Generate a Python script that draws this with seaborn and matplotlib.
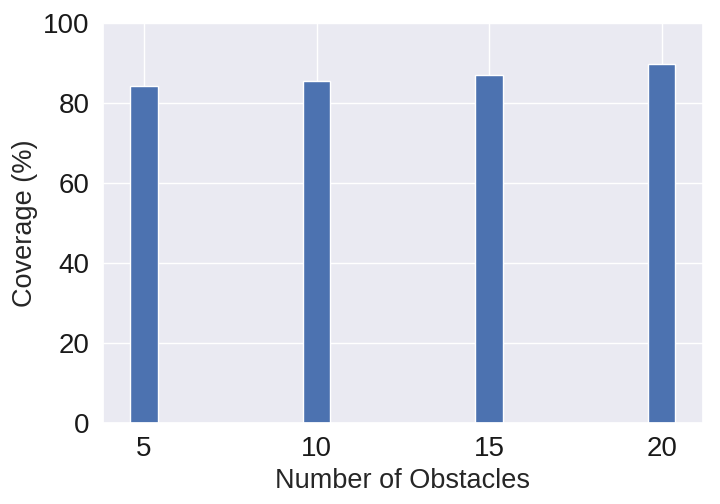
import matplotlib
matplotlib.use("Agg")
import matplotlib.pyplot as plt
import seaborn as sns

# Data
obstacles = [5, 10, 15, 20]
coverage = [84.2, 85.6, 87.1, 89.7]

sns.set_theme(style="darkgrid")
plt.rcParams['font.family'] = ['Liberation Sans', 'DejaVu Sans']

fig, ax = plt.subplots(figsize=(7.2, 5.04), dpi=100)
ax.bar(obstacles, coverage, width=0.8, color=sns.color_palette("deep")[0])

ax.set_ylim(0, 100)
ax.set_xticks(obstacles)
ax.set_xlabel("Number of Obstacles", fontsize=19.5, color="#262626")
ax.set_ylabel("Coverage (%)", fontsize=19.5, color="#262626")
ax.tick_params(labelsize=20, labelcolor="#1a1a1a")

plt.subplots_adjust(left=0.143, right=0.976, top=0.954, bottom=0.161)
plt.savefig("out.png", dpi=100)
